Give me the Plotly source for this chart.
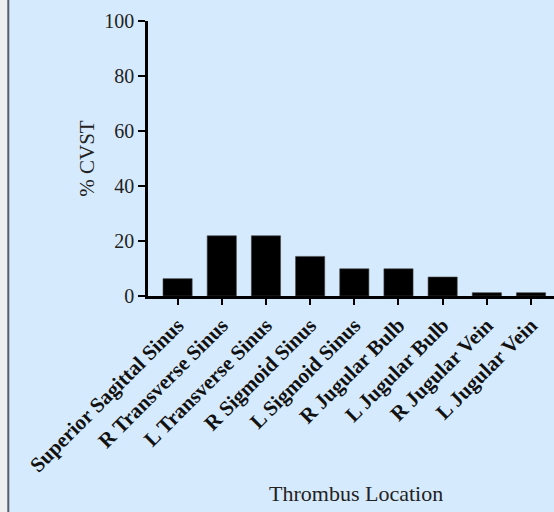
import plotly.graph_objects as go

categories = ["Superior Sagittal Sinus", "R Transverse Sinus", "L Transverse Sinus",
              "R Sigmoid Sinus", "L Sigmoid Sinus", "R Jugular Bulb", "L Jugular Bulb",
              "R Jugular Vein", "L Jugular Vein"]
values = [6.3, 21.9, 21.9, 14.4, 9.9, 9.9, 6.9, 1.2, 1.2]
y_ticks = [0, 20, 40, 60, 80, 100]

W, H = 554, 512
L, R, T, B = 148, 0, 21, 216
pw, ph = W - L - R, H - T - B

def px(x):
    return (x - L) / pw

def py(y):
    return (H - B - y) / ph

BG = "#d6eafd"
FONT = "Liberation Serif"

fig = go.Figure(go.Bar(
    x=list(range(len(categories))), y=values, width=0.66,
    marker=dict(color="black", line=dict(color="#444", width=0.6)),
))

fig.update_layout(
    width=W, height=H, margin=dict(l=L, r=R, t=T, b=B),
    paper_bgcolor=BG, plot_bgcolor=BG, showlegend=False,
    font=dict(family=FONT, color="#222"),
    xaxis=dict(
        range=[-0.67, 8.52], tickmode="array", tickvals=list(range(len(categories))),
        ticktext=categories, tickangle=-45, showgrid=False, zeroline=False,
        showline=True, linecolor="black", linewidth=2.5, ticks="outside",
        ticklen=6, tickwidth=2, tickcolor="black",
        tickfont=dict(family=FONT, size=21, color="#111", weight="bold"),
    ),
    yaxis=dict(
        range=[0, 100], tickmode="array", tickvals=y_ticks, showgrid=False,
        zeroline=False, showline=True, linecolor="black", linewidth=2.5,
        ticks="outside", ticklen=7, tickwidth=2, tickcolor="black",
        tickfont=dict(family=FONT, size=20, color="#222"),
        title=dict(text="% CVST", font=dict(family=FONT, size=21, color="#222"), standoff=4),
    ),
    shapes=[
        dict(type="rect", xref="paper", yref="paper", x0=px(0), x1=px(7.3),
             y0=py(H), y1=py(0), fillcolor="#efefef", line=dict(width=0), layer="below"),
        dict(type="rect", xref="paper", yref="paper", x0=px(7.3), x1=px(9.3),
             y0=py(H), y1=py(0), fillcolor="#5a5e6a", line=dict(width=0), layer="below"),
    ],
    annotations=[
        dict(text="Thrombus Location", xref="paper", yref="paper", x=px(356), y=py(493),
             xanchor="center", yanchor="middle", showarrow=False,
             font=dict(family=FONT, size=22, color="#222")),
    ],
)

fig.write_html("out.html", config={"displayModeBar": False},
               post_script="document.body.style.margin='0';document.body.style.padding='0';")
